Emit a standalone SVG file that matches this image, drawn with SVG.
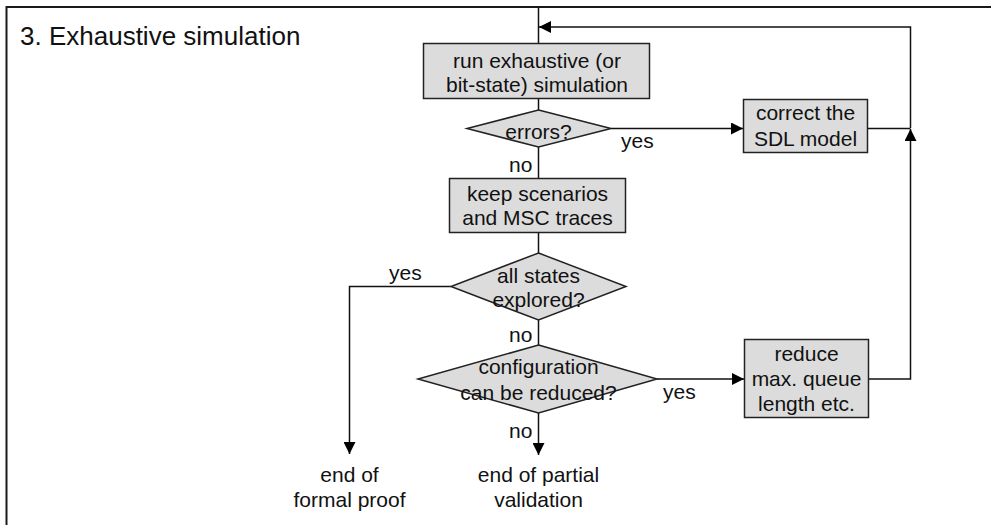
<svg xmlns="http://www.w3.org/2000/svg" width="991" height="525" viewBox="0 0 991 525">
  <style>
    .frame { fill: none; stroke: #1a1a1a; stroke-width: 2; }
    .box { fill: #dcdcdc; stroke: #222; stroke-width: 1.5; }
    .line { fill: none; stroke: #111; stroke-width: 1.5; }
    text { font-family: "Liberation Sans", Arial, sans-serif; font-size: 21px; fill: #111; }
    .c { text-anchor: middle; }
    .title { font-size: 26px; }
  </style>
  <defs>
    <marker id="arrow" viewBox="0 0 12 12" refX="12" refY="6" markerWidth="12" markerHeight="12" markerUnits="userSpaceOnUse" orient="auto">
      <path d="M0,0 L12,6 L0,12 Z" fill="#000"/>
    </marker>
  </defs>

  <rect width="991" height="525" fill="#fff"/>

  <!-- outer frame -->
  <path class="frame" d="M6.5,525 V7 H991"/>
  <text class="title" x="20" y="45">3. Exhaustive simulation</text>

  <!-- connectors -->
  <g id="connectors">
    <path class="line" d="M538.5,7 V43"/>
    <path class="line" d="M910.5,128 V27 H539" marker-end="url(#arrow)"/>
    <path class="line" d="M538.5,99 V110"/>
    <path class="line" d="M611,128.5 H743" marker-end="url(#arrow)"/>
    <path class="line" d="M868,128.5 H910.5"/>
    <path class="line" d="M538.5,147 V178"/>
    <path class="line" d="M538.5,233 V253"/>
    <path class="line" d="M451,286.5 H349.5 V454" marker-end="url(#arrow)"/>
    <path class="line" d="M538.5,320 V345"/>
    <path class="line" d="M657,379 H744" marker-end="url(#arrow)"/>
    <path class="line" d="M868,379 H910.5 V129" marker-end="url(#arrow)"/>
    <path class="line" d="M538.5,413 V455" marker-end="url(#arrow)"/>
    <text x="621" y="148">yes</text>
    <text x="509" y="172">no</text>
    <text x="389" y="280">yes</text>
    <text x="509" y="342">no</text>
    <text x="663" y="399">yes</text>
    <text x="509" y="438">no</text>
  </g>

  <g id="run-simulation">
    <rect class="box" x="423.5" y="43.5" width="226" height="55"/>
    <text class="c" x="537" y="68">run exhaustive (or</text>
    <text class="c" x="537" y="92">bit-state) simulation</text>
  </g>

  <g id="errors">
    <polygon class="box" points="538.5,110 611,128.5 538.5,147 467,128.5"/>
    <text class="c" x="538.5" y="139">errors?</text>
  </g>

  <g id="correct-model">
    <rect class="box" x="743.5" y="99.5" width="124" height="53"/>
    <text class="c" x="805.5" y="120">correct the</text>
    <text class="c" x="805.5" y="146">SDL model</text>
  </g>

  <g id="keep-scenarios">
    <rect class="box" x="449.5" y="178.5" width="176" height="54"/>
    <text class="c" x="537.5" y="201">keep scenarios</text>
    <text class="c" x="537.5" y="225">and MSC traces</text>
  </g>

  <g id="all-states">
    <polygon class="box" points="538.5,253 626,286.5 538.5,320 451,286.5"/>
    <text class="c" x="538.5" y="283">all states</text>
    <text class="c" x="538.5" y="307">explored?</text>
  </g>

  <g id="config-reduced">
    <polygon class="box" points="538.5,345 657,379 538.5,413 418,379"/>
    <text class="c" x="538.5" y="374">configuration</text>
    <text class="c" x="538.5" y="400">can be reduced?</text>
  </g>

  <g id="reduce-queue">
    <rect class="box" x="744.5" y="339.5" width="124" height="78"/>
    <text class="c" x="806.5" y="361">reduce</text>
    <text class="c" x="806.5" y="386">max. queue</text>
    <text class="c" x="806.5" y="411">length etc.</text>
  </g>

  <g id="end-formal">
    <text class="c" x="349.5" y="482">end of</text>
    <text class="c" x="349.5" y="507">formal proof</text>
  </g>

  <g id="end-partial">
    <text class="c" x="538.5" y="482">end of partial</text>
    <text class="c" x="538.5" y="507">validation</text>
  </g>
</svg>
